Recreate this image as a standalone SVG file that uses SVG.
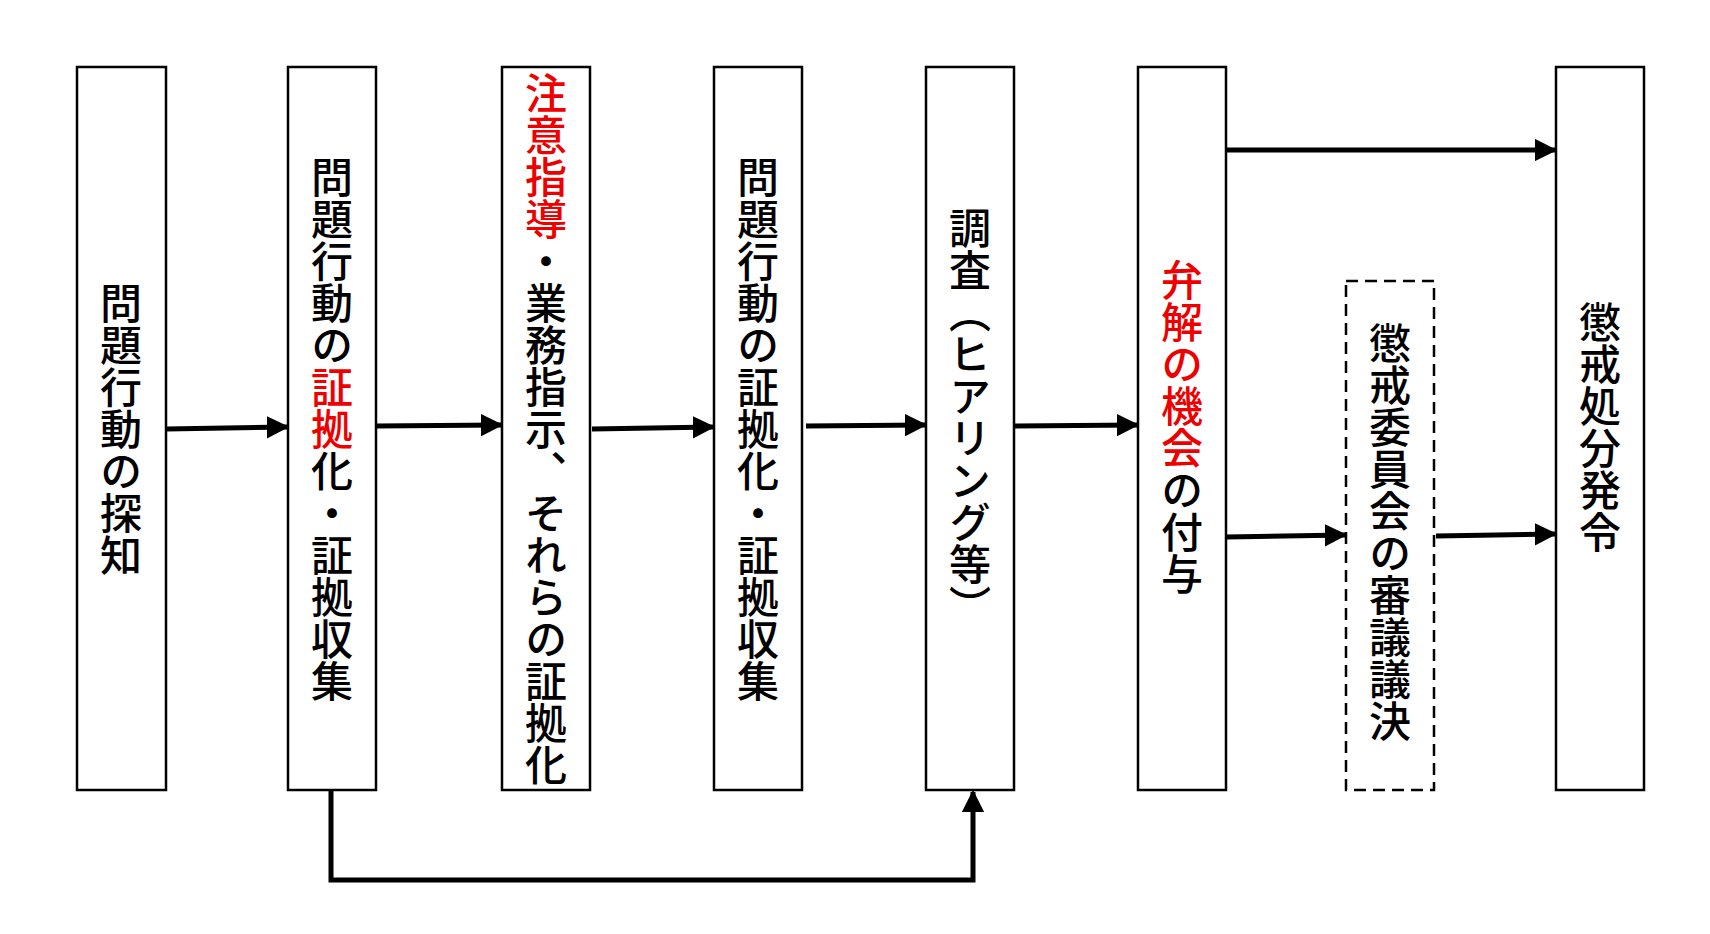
<svg xmlns="http://www.w3.org/2000/svg" width="1710" height="934" viewBox="0 0 1710 934">
<style>
.b{fill:#fff;stroke:#000;stroke-width:2.5}
.d{fill:#fff;stroke:#000;stroke-width:2.5;stroke-dasharray:12 7}
.t{font-family:"Noto Sans CJK JP","Noto Sans",sans-serif;font-size:42px;font-weight:500;writing-mode:vertical-rl;text-anchor:middle;fill:#000}
.r{fill:#e00}
.c{fill:none;stroke:#000;stroke-width:5}
</style>
<defs><marker id="a" viewBox="0 0 10 10" refX="9" refY="5" markerWidth="4.5" markerHeight="4.5" orient="auto" markerUnits="strokeWidth"><path d="M0,0L10,5L0,10z" fill="#000"/></marker></defs>
<rect width="1710" height="934" fill="#fff"/>
<g id="n1"><rect class="b" x="77" y="67" width="89" height="723"/><text class="t" x="121" y="429">問題行動の探知</text></g>
<g id="n2"><rect class="b" x="288" y="67" width="88" height="723"/><text class="t" x="332" y="429">問題行動の<tspan class="r">証拠</tspan>化・証拠収集</text></g>
<g id="n3"><rect class="b" x="502" y="67" width="88" height="723"/><text class="t" x="546" y="429"><tspan class="r">注意指導</tspan>・業務指示、それらの証拠化</text></g>
<g id="n4"><rect class="b" x="714" y="67" width="88" height="723"/><text class="t" x="758" y="429">問題行動の証拠化・証拠収集</text></g>
<g id="n5"><rect class="b" x="926" y="67" width="88" height="723"/><text class="t" x="970" y="417">調査（ヒアリング等）</text></g>
<g id="n6"><rect class="b" x="1138" y="67" width="88" height="723"/><text class="t" x="1182" y="427"><tspan class="r">弁解の機会</tspan>の付与</text></g>
<g id="n7"><rect class="d" x="1346" y="281" width="88" height="509"/><text class="t" x="1390" y="532">懲戒委員会の審議議決</text></g>
<g id="n8"><rect class="b" x="1556" y="67" width="88" height="723"/><text class="t" x="1600" y="427">懲戒処分発令</text></g>
<g id="connectors">
<path class="c" marker-end="url(#a)" d="M166,429L287,427"/>
<path class="c" marker-end="url(#a)" d="M376,426L501,425"/>
<path class="c" marker-end="url(#a)" d="M592,429L713,427"/>
<path class="c" marker-end="url(#a)" d="M806,426L925,425"/>
<path class="c" marker-end="url(#a)" d="M1014,426L1137,425"/>
<path class="c" marker-end="url(#a)" d="M1226,150L1555,150"/>
<path class="c" marker-end="url(#a)" d="M1226,537L1345,535"/>
<path class="c" marker-end="url(#a)" d="M1436,536L1555,534"/>
<path class="c" marker-end="url(#a)" d="M331,790V880H973V792"/>
</g>
</svg>
